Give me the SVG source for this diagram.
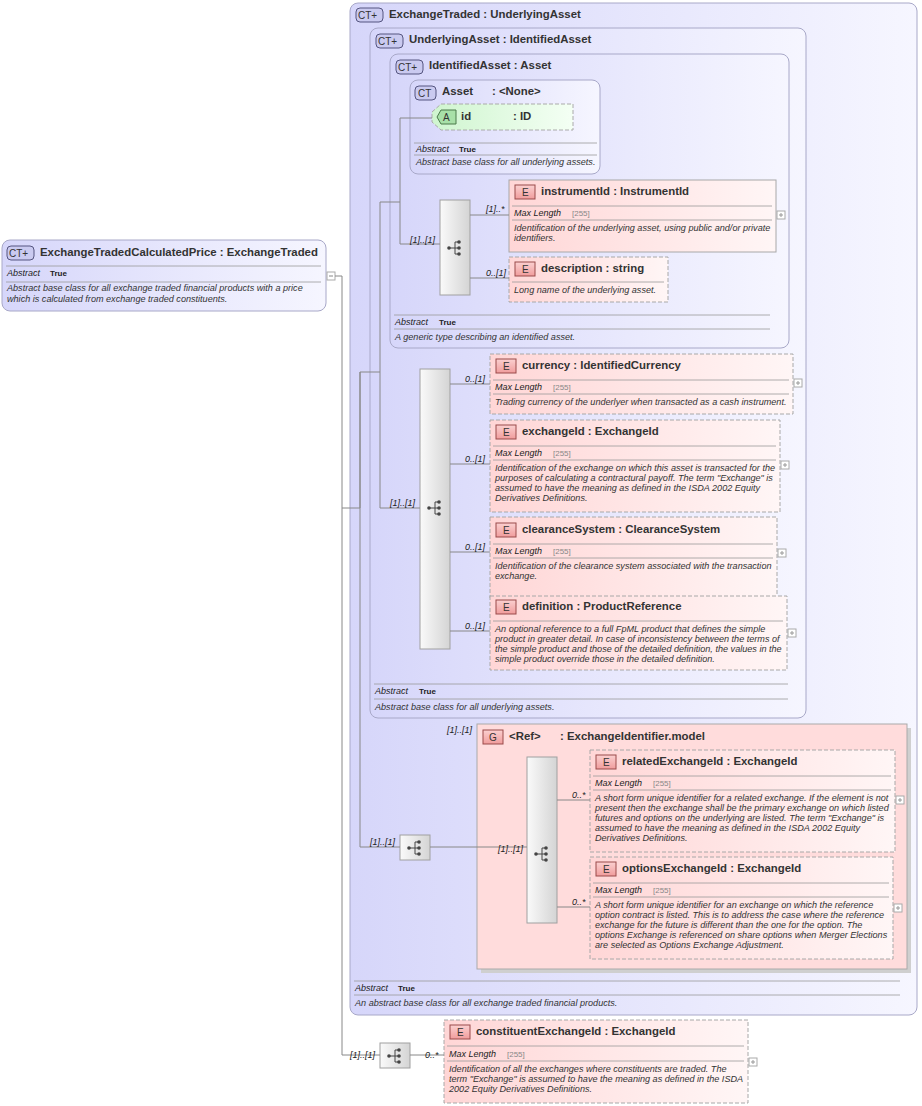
<svg xmlns="http://www.w3.org/2000/svg" width="922" height="1106" viewBox="0 0 922 1106">
<defs>
<linearGradient id="gC" x1="0" y1="0" x2="1" y2="0"><stop offset="0" stop-color="#d6d6fa"/><stop offset="1" stop-color="#f6f6ff"/></linearGradient>
<linearGradient id="gE" x1="0" y1="0" x2="1" y2="0"><stop offset="0" stop-color="#ffd6d6"/><stop offset="1" stop-color="#fff6f6"/></linearGradient>
<linearGradient id="gA" x1="0" y1="0" x2="1" y2="0"><stop offset="0" stop-color="#cff5cf"/><stop offset="1" stop-color="#f4fff4"/></linearGradient>
<linearGradient id="gS" x1="0" y1="0" x2="1" y2="0"><stop offset="0" stop-color="#fafafa"/><stop offset="1" stop-color="#d4d4d4"/></linearGradient>
<linearGradient id="gB" x1="0" y1="0" x2="0" y2="1"><stop offset="0" stop-color="#fbd0d0"/><stop offset="1" stop-color="#f09c9c"/></linearGradient>
<symbol id="seqI" viewBox="0 0 16 16" overflow="visible">
<circle cx="2" cy="8" r="1.8" fill="#444"/><line x1="2" y1="8" x2="8" y2="8" stroke="#444"/><line x1="8" y1="2" x2="8" y2="14" stroke="#444"/>
<line x1="8" y1="2" x2="12" y2="2" stroke="#444"/><line x1="8" y1="8" x2="12" y2="8" stroke="#444"/><line x1="8" y1="14" x2="12" y2="14" stroke="#444"/>
<circle cx="12" cy="2" r="1.8" fill="#444"/><circle cx="12" cy="8" r="1.8" fill="#444"/><circle cx="12" cy="14" r="1.8" fill="#444"/>
</symbol>
<symbol id="plus" viewBox="0 0 8 8" overflow="visible"><rect x="0" y="0" width="8" height="8" fill="#fff" stroke="#aaa"/><path d="M2,4 H6 M4,2 V6" stroke="#999"/></symbol>
</defs>
<style>
text{font-family:"Liberation Sans",Arial,sans-serif;fill:#222}
.t{font-size:11.4px;font-weight:bold;fill:#333}
.i{font-size:9.1px;font-style:italic;fill:#333}
.v{font-size:8px;font-weight:bold}
.g{font-size:8px;fill:#888}
.m{font-size:9px;font-style:italic}
.ct{fill:url(#gC);stroke:#a8a8c8;stroke-width:1}
.el{fill:url(#gE);stroke:#a8a8a8;stroke-width:1}
.dash{stroke-dasharray:4,2}
.sq{fill:url(#gS);stroke:#a0a0a0}
.sep{stroke:#999;stroke-width:0.8}
.cn{stroke:#888;fill:none;stroke-width:1}
.bc{fill:#cacaf0;stroke:#555580}
.be{fill:url(#gB);stroke:#9a4a4a}
.bt{font-size:10px;fill:#333}
</style>

<g id="ExchangeTradedCalculatedPrice">
<rect x="2" y="240" width="324" height="71" rx="8" class="ct"/>
<rect x="7" y="246" width="27" height="14" rx="4" class="bc"/><text x="9" y="257" class="bt">CT+</text>
<text x="40" y="256" class="t">ExchangeTradedCalculatedPrice : ExchangeTraded</text>
<line x1="6" y1="266" x2="321" y2="266" class="sep"/><text x="7" y="276" class="m">Abstract</text><text x="50" y="276" class="v">True</text>
<line x1="6" y1="282" x2="321" y2="282" class="sep"/>
<text x="7" y="291" class="i">Abstract base class for all exchange traded financial products with a price</text>
<text x="7" y="302" class="i">which is calculated from exchange traded constituents.</text>
<rect x="327" y="272" width="8" height="8" fill="#fff" stroke="#aaa"/><line x1="329" y1="276" x2="333" y2="276" stroke="#888"/>
</g>

<g id="ExchangeTraded">
<rect x="350" y="3" width="567" height="1012" rx="8" class="ct"/>
<rect x="356" y="8" width="27" height="14" rx="4" class="bc"/><text x="358" y="19" class="bt">CT+</text>
<text x="389" y="18" class="t">ExchangeTraded : UnderlyingAsset</text>
<line x1="354" y1="981" x2="900" y2="981" class="sep"/><text x="355" y="991" class="m">Abstract</text><text x="398" y="991" class="v">True</text>
<line x1="354" y1="995" x2="900" y2="995" class="sep"/>
<text x="355" y="1006" class="i">An abstract base class for all exchange traded financial products.</text>
</g>

<g id="UnderlyingAsset">
<rect x="370" y="28" width="436" height="690" rx="8" class="ct"/>
<rect x="376" y="34" width="27" height="14" rx="4" class="bc"/><text x="378" y="45" class="bt">CT+</text>
<text x="409" y="43" class="t">UnderlyingAsset : IdentifiedAsset</text>
<line x1="374" y1="684" x2="788" y2="684" class="sep"/><text x="375" y="694" class="m">Abstract</text><text x="419" y="694" class="v">True</text>
<line x1="374" y1="699" x2="788" y2="699" class="sep"/>
<text x="375" y="710" class="i">Abstract base class for all underlying assets.</text>
</g>

<g id="IdentifiedAsset">
<rect x="390" y="54" width="399" height="294" rx="8" class="ct"/>
<rect x="396" y="60" width="27" height="14" rx="4" class="bc"/><text x="398" y="71" class="bt">CT+</text>
<text x="429" y="69" class="t">IdentifiedAsset : Asset</text>
<line x1="394" y1="315" x2="770" y2="315" class="sep"/><text x="395" y="325" class="m">Abstract</text><text x="439" y="325" class="v">True</text>
<line x1="394" y1="329" x2="770" y2="329" class="sep"/>
<text x="395" y="340" class="i">A generic type describing an identified asset.</text>
</g>

<g id="Asset">
<rect x="410" y="80" width="190" height="94" rx="8" class="ct"/>
<rect x="415" y="86" width="21" height="14" rx="4" class="bc"/><text x="418" y="97" class="bt">CT</text>
<text x="442" y="95" class="t">Asset</text><text x="492" y="95" class="t">: &lt;None&gt;</text>
<line x1="414" y1="143" x2="597" y2="143" class="sep"/><text x="416" y="152" class="m">Abstract</text><text x="459" y="152" class="v">True</text>
<line x1="414" y1="155" x2="597" y2="155" class="sep"/>
<text x="416" y="165" class="i">Abstract base class for all underlying assets.</text>
</g>

<g id="id">
<path d="M441,104 H573 V130 H441 L432,122 V112 Z" fill="url(#gA)" stroke="#aaa" stroke-dasharray="4,2"/>
<path d="M441,110 H456 V124 H441 L437,117 Z" fill="#a8e0a8" stroke="#4a7a4a"/><text x="443" y="121" class="bt">A</text>
<text x="461" y="120" class="t">id</text><text x="513" y="120" class="t">: ID</text>
</g>

<g id="seq1"><rect x="440" y="200" width="30" height="95" class="sq"/><use href="#seqI" x="447" y="240" width="16" height="16"/></g>
<g id="seq2"><rect x="420" y="369" width="30" height="280" class="sq"/><use href="#seqI" x="427" y="500" width="16" height="16"/></g>

<g id="instrumentId">
<rect x="509" y="180" width="267" height="72" class="el"/>
<rect x="515" y="185" width="20" height="14" class="be"/><text x="522" y="196" class="bt">E</text>
<text x="541" y="195" class="t">instrumentId : InstrumentId</text>
<line x1="512" y1="206" x2="772" y2="206" class="sep"/><text x="514" y="216" class="m">Max Length</text><text x="572" y="216" class="g">[255]</text>
<line x1="512" y1="220" x2="772" y2="220" class="sep"/>
<text x="514" y="231" class="i">Identification of the underlying asset, using public and/or private</text>
<text x="514" y="241" class="i">identifiers.</text>
<use href="#plus" x="777" y="211" width="8" height="8"/>
</g>

<g id="description">
<rect x="509" y="257" width="159" height="45" class="el dash"/>
<rect x="515" y="262" width="20" height="14" class="be"/><text x="522" y="273" class="bt">E</text>
<text x="541" y="272" class="t">description : string</text>
<line x1="512" y1="282" x2="664" y2="282" class="sep"/>
<text x="514" y="293" class="i">Long name of the underlying asset.</text>
</g>

<g id="currency">
<rect x="490" y="354" width="303" height="60" class="el dash"/>
<rect x="496" y="359" width="20" height="14" class="be"/><text x="503" y="370" class="bt">E</text>
<text x="522" y="369" class="t">currency : IdentifiedCurrency</text>
<line x1="493" y1="380" x2="789" y2="380" class="sep"/><text x="495" y="390" class="m">Max Length</text><text x="553" y="390" class="g">[255]</text>
<line x1="493" y1="394" x2="789" y2="394" class="sep"/>
<text x="495" y="405" class="i">Trading currency of the underlyer when transacted as a cash instrument.</text>
<use href="#plus" x="794" y="379" width="8" height="8"/>
</g>

<g id="exchangeId">
<rect x="490" y="420" width="290" height="92" class="el dash"/>
<rect x="496" y="425" width="20" height="14" class="be"/><text x="503" y="436" class="bt">E</text>
<text x="522" y="435" class="t">exchangeId : ExchangeId</text>
<line x1="493" y1="446" x2="776" y2="446" class="sep"/><text x="495" y="456" class="m">Max Length</text><text x="553" y="456" class="g">[255]</text>
<line x1="493" y1="460" x2="776" y2="460" class="sep"/>
<text x="495" y="471" class="i">Identification of the exchange on which this asset is transacted for the</text>
<text x="495" y="481" class="i">purposes of calculating a contractural payoff. The term "Exchange" is</text>
<text x="495" y="491" class="i">assumed to have the meaning as defined in the ISDA 2002 Equity</text>
<text x="495" y="501" class="i">Derivatives Definitions.</text>
<use href="#plus" x="781" y="461" width="8" height="8"/>
</g>

<g id="clearanceSystem">
<rect x="490" y="517" width="287" height="81" class="el dash"/>
<rect x="496" y="523" width="20" height="14" class="be"/><text x="503" y="534" class="bt">E</text>
<text x="522" y="533" class="t">clearanceSystem : ClearanceSystem</text>
<line x1="493" y1="544" x2="773" y2="544" class="sep"/><text x="495" y="554" class="m">Max Length</text><text x="553" y="554" class="g">[255]</text>
<line x1="493" y1="558" x2="773" y2="558" class="sep"/>
<text x="495" y="569" class="i">Identification of the clearance system associated with the transaction</text>
<text x="495" y="579" class="i">exchange.</text>
<use href="#plus" x="778" y="549" width="8" height="8"/>
</g>

<g id="definition">
<rect x="490" y="596" width="297" height="74" class="el dash"/>
<rect x="496" y="600" width="20" height="14" class="be"/><text x="503" y="611" class="bt">E</text>
<text x="522" y="610" class="t">definition : ProductReference</text>
<line x1="493" y1="621" x2="783" y2="621" class="sep"/>
<text x="495" y="632" class="i">An optional reference to a full FpML product that defines the simple</text>
<text x="495" y="642" class="i">product in greater detail. In case of inconsistency between the terms of</text>
<text x="495" y="652" class="i">the simple product and those of the detailed definition, the values in the</text>
<text x="495" y="662" class="i">simple product override those in the detailed definition.</text>
<use href="#plus" x="788" y="629" width="8" height="8"/>
</g>

<g id="ExchangeIdentifier.model">
<rect x="481" y="728" width="430" height="245" fill="#cfcfcf"/>
<rect x="477" y="724" width="430" height="245" fill="#ffdcdc" stroke="#aaa"/>
<rect x="483" y="730" width="20" height="14" class="be"/><text x="489" y="741" class="bt">G</text>
<text x="509" y="740" class="t">&lt;Ref&gt;</text><text x="560" y="740" class="t">: ExchangeIdentifier.model</text>
</g>

<g id="seq3"><rect x="400" y="835" width="30" height="25" class="sq"/><use href="#seqI" x="407" y="840" width="16" height="16"/></g>
<g id="seq4"><rect x="527" y="757" width="30" height="166" class="sq"/><use href="#seqI" x="534" y="846" width="16" height="16"/></g>
<g id="seq5"><rect x="380" y="1043" width="30" height="25" class="sq"/><use href="#seqI" x="387" y="1048" width="16" height="16"/></g>

<g id="relatedExchangeId">
<rect x="590" y="750" width="305" height="102" class="el dash"/>
<rect x="596" y="755" width="20" height="14" class="be"/><text x="603" y="766" class="bt">E</text>
<text x="622" y="765" class="t">relatedExchangeId : ExchangeId</text>
<line x1="593" y1="776" x2="891" y2="776" class="sep"/><text x="595" y="786" class="m">Max Length</text><text x="653" y="786" class="g">[255]</text>
<line x1="593" y1="790" x2="891" y2="790" class="sep"/>
<text x="595" y="801" class="i">A short form unique identifier for a related exchange. If the element is not</text>
<text x="595" y="811" class="i">present then the exchange shall be the primary exchange on which listed</text>
<text x="595" y="821" class="i">futures and options on the underlying are listed. The term "Exchange" is</text>
<text x="595" y="831" class="i">assumed to have the meaning as defined in the ISDA 2002 Equity</text>
<text x="595" y="841" class="i">Derivatives Definitions.</text>
<use href="#plus" x="896" y="796" width="8" height="8"/>
</g>

<g id="optionsExchangeId">
<rect x="590" y="857" width="303" height="102" class="el dash"/>
<rect x="596" y="862" width="20" height="14" class="be"/><text x="603" y="873" class="bt">E</text>
<text x="622" y="872" class="t">optionsExchangeId : ExchangeId</text>
<line x1="593" y1="883" x2="889" y2="883" class="sep"/><text x="595" y="893" class="m">Max Length</text><text x="653" y="893" class="g">[255]</text>
<line x1="593" y1="897" x2="889" y2="897" class="sep"/>
<text x="595" y="908" class="i">A short form unique identifier for an exchange on which the reference</text>
<text x="595" y="918" class="i">option contract is listed. This is to address the case where the reference</text>
<text x="595" y="928" class="i">exchange for the future is different than the one for the option. The</text>
<text x="595" y="938" class="i">options Exchange is referenced on share options when Merger Elections</text>
<text x="595" y="948" class="i">are selected as Options Exchange Adjustment.</text>
<use href="#plus" x="894" y="904" width="8" height="8"/>
</g>

<g id="constituentExchangeId">
<rect x="444" y="1020" width="304" height="83" class="el dash"/>
<rect x="450" y="1025" width="20" height="14" class="be"/><text x="457" y="1036" class="bt">E</text>
<text x="476" y="1035" class="t">constituentExchangeId : ExchangeId</text>
<line x1="447" y1="1046" x2="744" y2="1046" class="sep"/><text x="449" y="1057" class="m">Max Length</text><text x="507" y="1057" class="g">[255]</text>
<line x1="447" y1="1061" x2="744" y2="1061" class="sep"/>
<text x="449" y="1072" class="i">Identification of all the exchanges where constituents are traded. The</text>
<text x="449" y="1082" class="i">term "Exchange" is assumed to have the meaning as defined in the ISDA</text>
<text x="449" y="1092" class="i">2002 Equity Derivatives Definitions.</text>
<use href="#plus" x="749" y="1058" width="8" height="8"/>
</g>

<g id="connectors">
<path class="cn" d="M335,276 H342 V1055 H380 M342,508 H360 V372 H380 V202 H400 V118 H432 M400,202 V244 H440 M380,372 V508 H420 M360,372 V847 H400"/>
<path class="cn" d="M470,215 H509 M470,278 H509 M450,384 H490 M450,464 H490 M450,552 H490 M450,631 H490 M430,847 H527 M557,800 H590 M557,907 H590 M410,1055 H444"/>
<g class="m">
<text x="410" y="243">[1]..[1]</text><text x="486" y="212">[1]..*</text><text x="486" y="276">0..[1]</text>
<text x="390" y="506">[1]..[1]</text><text x="465" y="382">0..[1]</text><text x="465" y="462">0..[1]</text><text x="465" y="550">0..[1]</text><text x="465" y="629">0..[1]</text>
<text x="447" y="733">[1]..[1]</text><text x="370" y="845">[1]..[1]</text><text x="498" y="852">[1]..[1]</text>
<text x="572" y="798">0..*</text><text x="572" y="905">0..*</text><text x="350" y="1058">[1]..[1]</text><text x="425" y="1058">0..*</text>
</g>
</g>
</svg>
